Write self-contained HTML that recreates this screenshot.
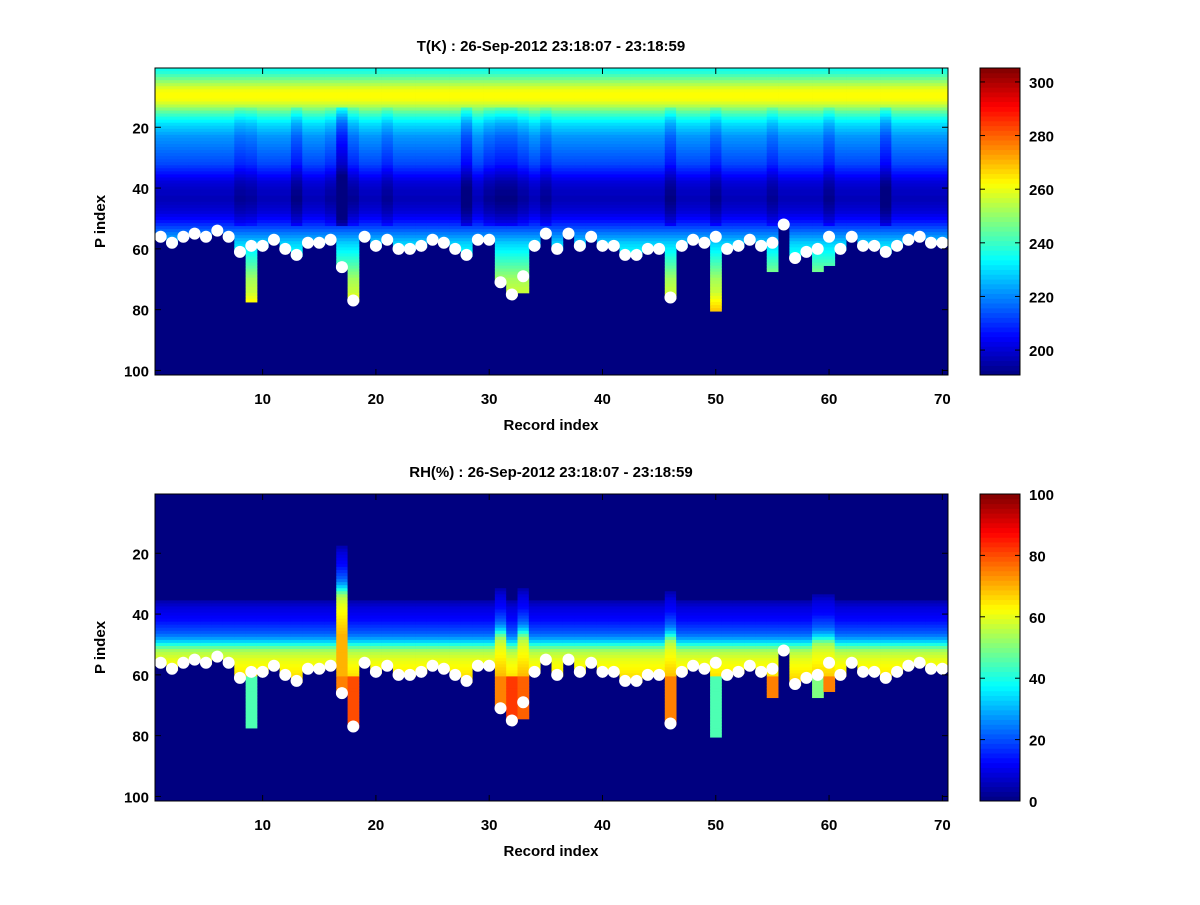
<!DOCTYPE html>
<html><head><meta charset="utf-8"><style>
body{margin:0;background:#fff;}
svg text{font-family:"Liberation Sans",sans-serif;font-weight:bold;font-size:15px;fill:#000;}
</style></head><body>
<svg id="fig" width="1200" height="900" xmlns="http://www.w3.org/2000/svg">
<rect width="1200" height="900" fill="#fff"/>
</svg>
<script>
// ---- data ----
const records = Array.from({length:70},(_,i)=>i+1);
const surfaceIdx = [56,58,56,55,56,54,56,61,59,59,57,60,62,58,58,57,66,77,56,59,57,60,60,59,57,58,60,62,57,57,71,75,69,59,55,60,55,59,56,59,59,62,62,60,60,76,59,57,58,56,60,59,57,59,58,52,63,61,60,56,60,56,59,59,61,59,57,56,58,58];
const fieldEndOverride = {9:77,50:80,55:67,59:67,60:65,33:74};
const tProfile = [236,238,242,246,250,254,258,261,262,262,
261,258,254,249,244,240,236,233,230,228,
226,224,222,221,220,219,218,217,216,215,
214,213,211,209,207,205,203,201,200,199,
198,198,197,197,198,199,200,201,203,205,
207,210,213,216,219,222,225,228,230,232,
234,236,238,240,242,244,246,248,250,252,
253,254,255,256,258,260,262,264,266,268,
270,270,270,270,270,270,270,270,270,270,270,270,270,270,270,270,270,270,270,270,270];
const tOffset = {8:-4,9:-3,13:-6,16:-3,17:-14,18:-4,21:-4,28:-8,30:-4,31:-6,32:-6,33:-3,35:-4,46:-6,50:-5,55:-4,60:-5,65:-8};
const rhProfile = [0,0,0,0,0,0,0,0,0,0,0,0,0,0,0,0,0,0,0,0,0,0,0,0,0,0,0,0,0,0,0,0,0,0,0,
5,7,9,10,11,12,13,15,17,19,21,24,28,33,40,47,53,56,58,60,61,62,63,64,65,
66,67,68,69,70,70,70,70,70,70,70,70,70,70,70,70,70,70,70,70,70,70,70,70,70,70,70,70,70,70,70,70,70,70,70,70];
const rhShift = {17:18,31:4,33:4,46:3,59:2,60:2};
const rhDeep = {9:45,17:75,18:80,31:75,32:82,33:78,46:75,50:45,55:75,59:50,60:75};
const tTicks = [200,220,240,260,280,300];
const rhTicks = [0,20,40,60,80,100];
const xTicks = [10,20,30,40,50,60,70];
const yTicks = [20,40,60,80,100];
const titles = ["T(K) : 26-Sep-2012 23:18:07 - 23:18:59","RH(%) : 26-Sep-2012 23:18:07 - 23:18:59"];

// ---- helpers ----
const NS="http://www.w3.org/2000/svg", svg=document.getElementById('fig');
function mk(tag,attrs,parent){const e=document.createElementNS(NS,tag);for(const k in attrs)e.setAttribute(k,attrs[k]);(parent||svg).appendChild(e);return e;}
function cl(x){return Math.max(0,Math.min(1,x));}
function jet(v){v=cl(v);const r=cl(1.5-Math.abs(4*v-3)),g=cl(1.5-Math.abs(4*v-2)),b=cl(1.5-Math.abs(4*v-1));
 return `rgb(${Math.round(r*255)},${Math.round(g*255)},${Math.round(b*255)})`;}
const AX0=155, AX1=948, NP=101;
const xS=r=>AX0+(r-0.5)*(AX1-AX0)/70;
const cw=(AX1-AX0)/70;

function panel(idx,top,vmin,vmax,ticks,valueFn){
 const H=307, ch=H/NP, yS=p=>top+(p-0.5)*ch;
 const g=mk('g',{});
 
 
 const bg=mk('rect',{x:AX0,y:top,width:AX1-AX0,height:H,fill:jet(0)},g);
 
 
 records.forEach((r,i)=>{
   const end = fieldEndOverride[r]||surfaceIdx[i];
   for(let p=1;p<=end;p++){
     const v=valueFn(r,i,p);
     const c=mk('rect',{x:(xS(r)-cw/2).toFixed(2),y:(yS(p)-ch/2).toFixed(2),width:(cw+0.4).toFixed(2),height:(ch+0.4).toFixed(2),fill:jet((v-vmin)/(vmax-vmin))},g);
     
     
   }
 });
 records.forEach((r,i)=>{
   const d=mk('circle',{cx:xS(r),cy:yS(surfaceIdx[i]),r:6,fill:'#fff'},g);
   
   
 });
 const fr=mk('rect',{x:AX0,y:top,width:AX1-AX0,height:H,fill:'none',stroke:'#000','stroke-width':1},g);
 
 
 xTicks.forEach(t=>{
   const x=xS(t);
   mk('line',{x1:x,x2:x,y1:top+H,y2:top+H-6,stroke:'#000'},g);
   mk('line',{x1:x,x2:x,y1:top,y2:top+6,stroke:'#000'},g);
   const tx=mk('text',{x:x,y:top+H+29,'text-anchor':'middle'},g);tx.textContent=t;
   
   
 });
 yTicks.forEach(t=>{
   const y=yS(t);
   mk('line',{x1:AX0,x2:AX0+6,y1:y,y2:y,stroke:'#000'},g);
   mk('line',{x1:AX1,x2:AX1-6,y1:y,y2:y,stroke:'#000'},g);
   const tx=mk('text',{x:AX0-6,y:y+6,'text-anchor':'end'},g);tx.textContent=t;
   
   
 });
 const ti=mk('text',{x:551,y:top-17,'text-anchor':'middle'},g);ti.textContent=titles[idx];
 
 
 const xl=mk('text',{x:551,y:top+H+55,'text-anchor':'middle','font-size':'17'},g);xl.textContent='Record index';
 
 
 const yl=mk('text',{x:105,y:top+H/2,'text-anchor':'middle','font-size':'17',transform:`rotate(-90 105 ${top+H/2})`},g);yl.textContent='P index';
 
 
 // colorbar
 const CB0=980,CB1=1020,N=64;
 for(let k=0;k<N;k++){
   const c=mk('rect',{x:CB0,y:(top+H-(k+1)*H/N).toFixed(2),width:CB1-CB0,height:(H/N+0.5).toFixed(2),fill:jet((k+0.5)/N)},g);
   
   
 }
 const cf=mk('rect',{x:CB0,y:top,width:CB1-CB0,height:H,fill:'none',stroke:'#000'},g);
 
 
 ticks.forEach(t=>{
   const y=top+H-(t-vmin)/(vmax-vmin)*H;
   mk('line',{x1:CB0,x2:CB0+5,y1:y,y2:y,stroke:'#000'},g);
   mk('line',{x1:CB1,x2:CB1-5,y1:y,y2:y,stroke:'#000'},g);
   const tx=mk('text',{x:CB1+9,y:y+6},g);tx.textContent=t;
   
   
 });
}
panel(0,68,190.7,305.2,tTicks,(r,i,p)=>{
  let v=tProfile[p-1];
  if(p>=14&&p<=52) v+= (tOffset[r]||0);
  return v;
});
panel(1,494,0,100,rhTicks,(r,i,p)=>{
  if(p>60 && rhDeep[r]!==undefined) return rhDeep[r];
  const q=Math.min(NP,p+(rhShift[r]||0));
  return rhProfile[q-1];
});
</script>
</body></html>
